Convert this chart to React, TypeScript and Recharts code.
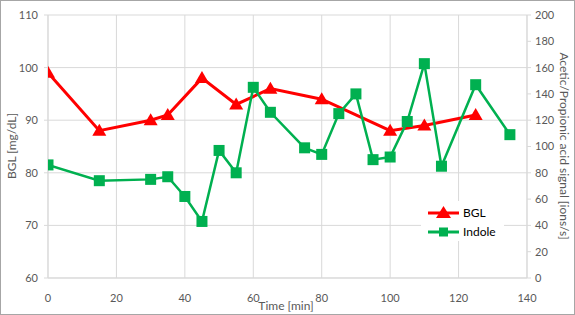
import React from "react";
import { LineChart, Line, XAxis, YAxis, CartesianGrid } from "recharts";

const timeBGL = [0, 15, 30, 35, 45, 55, 65, 80, 100, 110, 125];
const bglValues = [99, 88, 90, 91, 98, 93, 96, 94, 88, 89, 91];
const timeIndole = [0, 15, 30, 35, 40, 45, 50, 55, 60, 65, 75, 80, 85, 90, 95, 100, 105, 110, 115, 125, 135];
const indoleValues = [86, 74, 75, 77, 62, 43, 97, 80, 145, 126, 99, 94, 125, 140, 90, 92, 119, 163, 85, 147, 109];
const xTicks = [0, 20, 40, 60, 80, 100, 120, 140];
const leftTicks = [60, 70, 80, 90, 100, 110];
const rightTicks = [0, 20, 40, 60, 80, 100, 120, 140, 160, 180, 200];
const seriesNames = ["BGL", "Indole"];

const bglData = timeBGL.map((t, i) => ({ t, bgl: bglValues[i] }));
const indoleData = timeIndole.map((t, i) => ({ t, indole: indoleValues[i] }));

const RED = "#FF0000";
const GREEN = "#00B050";
const FONT = "Lato, 'Open Sans', sans-serif";
const tickStyle = { fill: "#595959", fontSize: 11, fontFamily: FONT };

const Triangle = (props: any) => {
  const { cx, cy } = props;
  if (cx == null || cy == null) return null;
  return <polygon points={`${cx},${cy - 7} ${cx + 7},${cy + 5} ${cx - 7},${cy + 5}`} fill={RED} />;
};

const Square = (props: any) => {
  const { cx, cy } = props;
  if (cx == null || cy == null) return null;
  return <rect x={cx - 5.5} y={cy - 5.5} width={11} height={11} fill={GREEN} />;
};

const LegendBox = () => (
  <svg width={83} height={40} style={{ display: "block" }}>
    <rect x={0} y={0} width={83} height={40} fill="#fff" />
    <line x1={7} y1={12} x2={38} y2={12} stroke={RED} strokeWidth={3} />
    <polygon points="22.5,5 30,17 15,17" fill={RED} />
    <text x={42} y={16} fontSize={12} fontFamily={FONT} fill="#000">{seriesNames[0]}</text>
    <line x1={7} y1={31} x2={38} y2={31} stroke={GREEN} strokeWidth={3} />
    <rect x={18} y={26.5} width={9} height={9} fill={GREEN} />
    <text x={42} y={35} fontSize={12} fontFamily={FONT} fill="#000">{seriesNames[1]}</text>
  </svg>
);

export default function App() {
  return (
    <div style={{ position: "fixed", left: 0, top: 0, width: 575, height: 315, background: "#fff" }}>
      <LineChart width={575} height={315} margin={{ top: 15, right: 8, bottom: 7, left: 8 }}>
        <CartesianGrid yAxisId="left" stroke="#d9d9d9" strokeWidth={1} />
        <XAxis
          dataKey="t"
          type="number"
          domain={[0, 140]}
          ticks={xTicks}
          allowDataOverflow
          height={30}
          stroke="#d9d9d9"
          tickLine={false}
          tickSize={0}
          tickMargin={16}
          tick={tickStyle}
          label={{
            content: () => (
              <text x={286} y={310} textAnchor="middle" fontSize={12} fontFamily={FONT} fill="#595959">Time [min]</text>
            ),
          }}
        />
        <YAxis
          yAxisId="left"
          orientation="left"
          domain={[60, 110]}
          ticks={leftTicks}
          width={40}
          stroke="#d9d9d9"
          tickSize={4}
          tickMargin={6}
          tick={tickStyle}
          label={{
            content: () => (
              <text x={16} y={146} transform="rotate(-90 16 146)" textAnchor="middle" fontSize={12} fontFamily={FONT} fill="#595959">BGL [mg/dL]</text>
            ),
          }}
        />
        <YAxis
          yAxisId="right"
          orientation="right"
          domain={[0, 200]}
          ticks={rightTicks}
          width={40}
          stroke="#d9d9d9"
          tickSize={4}
          tickMargin={4}
          tick={tickStyle}
          label={{
            content: () => (
              <text x={560} y={146} transform="rotate(90 560 146)" textAnchor="middle" fontSize={12} fontFamily={FONT} fill="#595959">Acetic/Propionic acid signal [ions/s]</text>
            ),
          }}
        />
        <Line
          yAxisId="left"
          data={bglData}
          dataKey="bgl"
          name={seriesNames[0]}
          stroke={RED}
          strokeWidth={3}
          dot={<Triangle />}
          activeDot={false}
          isAnimationActive={false}
        />
        <Line
          yAxisId="right"
          data={indoleData}
          dataKey="indole"
          name={seriesNames[1]}
          stroke={GREEN}
          strokeWidth={2.5}
          dot={<Square />}
          activeDot={false}
          isAnimationActive={false}
        />
      </LineChart>
      <div style={{ position: "absolute", left: 421, top: 201 }}>
        <LegendBox />
      </div>
      <div style={{ position: "absolute", left: 0, top: 0, width: 573, height: 313, border: "1px solid #a6a6a6", pointerEvents: "none" }} />
    </div>
  );
}
